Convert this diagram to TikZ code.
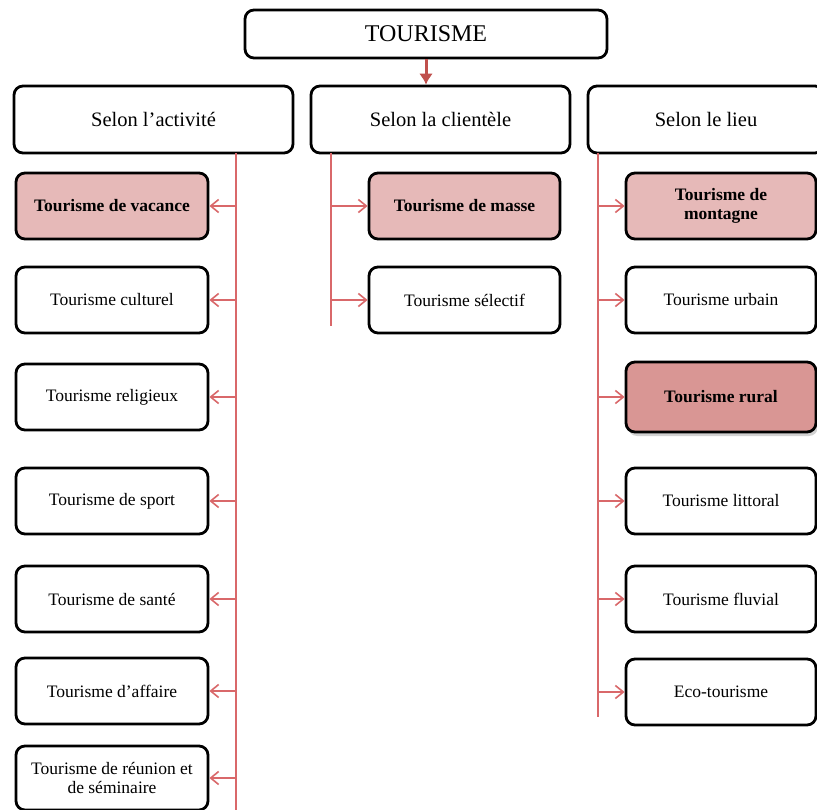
\documentclass[tikz,border=0pt]{standalone}
\usepackage{fontspec}
\setmainfont{Liberation Serif}
\usetikzlibrary{arrows.meta}
\usetikzlibrary{shadows}
\definecolor{rosepale}{HTML}{E6B9B8}
\definecolor{rosefonce}{HTML}{D99694}
\definecolor{rougefil}{HTML}{D9686A}
\definecolor{rougetete}{HTML}{C0504D}
\tikzset{
boite/.style={draw=black, line width=2.8pt, rounded corners=9pt, fill=white, align=center, inner sep=2pt},
cat/.style={boite, minimum height=67pt, font=\fontsize{20.5}{22}\selectfont},
item/.style={boite, minimum height=66pt, font=\fontsize{17.5}{18.5}\selectfont},
fil/.style={draw=rougefil, line width=1.6pt},
->-/.style={fil, -{Straight Barb[length=8pt,width=13pt,line width=1.6pt]}}}

\begin{document}
\begin{tikzpicture}[x=1pt, y=-1pt]
                        \clip (0,0) rectangle (817,810);
                        \fill[white] (0,0) rectangle (817,810);

                        \node[boite, minimum width=362pt, minimum height=48pt, font=\fontsize{24}{26}\selectfont] (T) at (426,34) {TOURISME};
                        \node[cat, minimum width=279pt] (A) at (153.5,119.5) {Selon l’activité};
                        \node[cat, minimum width=259pt] (C) at (440.5,119.5) {Selon la clientèle};
                        \node[cat, minimum width=236pt] (L) at (706,119.5) {Selon le lieu};

                        \draw[line width=3pt, draw=rougetete, -{Latex[length=11pt,width=14pt]}] (T.south) -- (T.south |- C.north);

                        \node[item, minimum width=192pt, fill=rosepale, font=\fontsize{17.5}{18.5}\bfseries] (a1) at (112,206) {Tourisme de vacance};
                        \node[item, minimum width=192pt] (a2) at (112,300) {Tourisme culturel};
                        \node[item, minimum width=192pt] (a3) at (112,397) {Tourisme religieux};
                        \node[item, minimum width=192pt] (a4) at (112,501) {Tourisme de sport};
                        \node[item, minimum width=192pt] (a5) at (112,599) {Tourisme de santé};
                        \node[item, minimum width=192pt] (a6) at (112,691) {Tourisme d’affaire};
                        \node[item, minimum width=192pt, minimum height=64pt] (a7) at (112,778) {Tourisme de réunion et\\de séminaire};

                        \node[item, minimum width=191pt, fill=rosepale, font=\fontsize{17.5}{18.5}\bfseries] (c1) at (464.5,206) {Tourisme de masse};
                        \node[item, minimum width=191pt] (c2) at (464.5,300) {Tourisme sélectif};

                        \node[item, minimum width=190pt, fill=rosepale, font=\fontsize{17.5}{18.5}\bfseries] (l1) at (721,206) {Tourisme de\\montagne};
                        \node[item, minimum width=190pt] (l2) at (721,300) {Tourisme urbain};
                        \node[item, minimum width=190pt, minimum height=70pt, fill=rosefonce, font=\fontsize{17.5}{18.5}\bfseries, drop shadow={shadow xshift=2pt, shadow yshift=-4pt, opacity=0.35}] (l3) at (721,397) {Tourisme rural};
                        \node[item, minimum width=190pt] (l4) at (721,501) {Tourisme littoral};
                        \node[item, minimum width=190pt] (l5) at (721,599) {Tourisme fluvial};
                        \node[item, minimum width=190pt] (l6) at (721,692) {Eco-tourisme};

                        \coordinate (ab) at (236,153);
                        \coordinate (ae) at (236,810);
                        \coordinate (cb) at (331,153);
                        \coordinate (ce) at (331,326);
                        \coordinate (lb) at (598,153);
                        \coordinate (le) at (598,717);

                        \draw[fil] (ab) -- (ae);
                        \draw[fil] (cb) -- (ce);
                        \draw[fil] (lb) -- (le);

                        \foreach \n in {a1,a2,a3,a4,a5,a6,a7}
                            \draw[->-] (ab |- \n.east) -- (\n.east);
                        \foreach \n in {c1,c2}
                            \draw[->-] (cb |- \n.west) -- (\n.west);
                        \foreach \n in {l1,l2,l3,l4,l5,l6}
                            \draw[->-] (lb |- \n.west) -- (\n.west);

                    \end{tikzpicture}
\end{document}
